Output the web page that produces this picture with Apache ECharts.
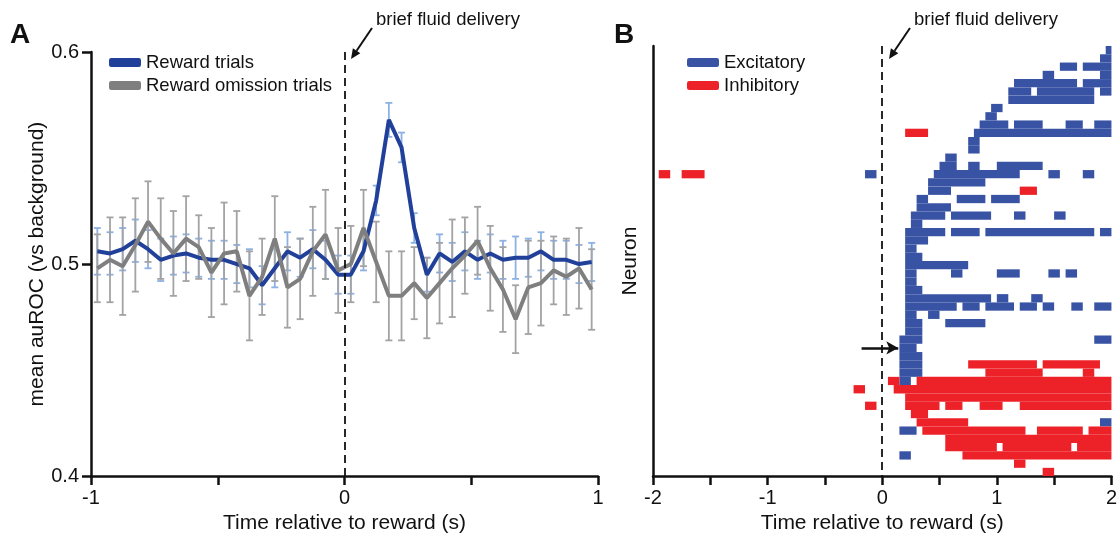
<!DOCTYPE html>
<html>
<head>
<meta charset="utf-8">
<script src="https://cdn.jsdelivr.net/npm/echarts@6/dist/echarts.min.js"></script>
<style>
  html, body { margin: 0; padding: 0; background: #fff; }
  #main { width: 1120px; height: 539px; }
</style>
</head>
<body>
<div id="main"></div>
<script>
  // ---- panel A: mean auROC, 50 ms bins ----
  var timeA = [-0.975, -0.925, -0.875, -0.825, -0.775, -0.725, -0.675, -0.625, -0.575, -0.525,
               -0.475, -0.425, -0.375, -0.325, -0.275, -0.225, -0.175, -0.125, -0.075, -0.025,
                0.025,  0.075,  0.125,  0.175,  0.225,  0.275,  0.325,  0.375,  0.425,  0.475,
                0.525,  0.575,  0.625,  0.675,  0.725,  0.775,  0.825,  0.875,  0.925,  0.975];

  var rewardMean = [0.506, 0.505, 0.507, 0.511, 0.507, 0.502, 0.504, 0.505, 0.503, 0.502,
                    0.502, 0.500, 0.498, 0.490, 0.498, 0.506, 0.503, 0.507, 0.502, 0.495,
                    0.495, 0.506, 0.530, 0.568, 0.555, 0.517, 0.495, 0.505, 0.501, 0.506,
                    0.502, 0.505, 0.502, 0.503, 0.503, 0.506, 0.502, 0.502, 0.500, 0.501];
  var rewardErr = [0.011, 0.010, 0.010, 0.010, 0.009, 0.010, 0.009, 0.009, 0.009, 0.009,
                   0.009, 0.009, 0.009, 0.009, 0.009, 0.009, 0.009, 0.009, 0.009, 0.009,
                   0.009, 0.009, 0.007, 0.008, 0.007, 0.007, 0.008, 0.009, 0.009, 0.009,
                   0.009, 0.009, 0.009, 0.010, 0.009, 0.009, 0.009, 0.009, 0.009, 0.009];

  var omissionMean = [0.498, 0.502, 0.499, 0.509, 0.520, 0.512, 0.505, 0.512, 0.508, 0.496,
                      0.505, 0.506, 0.485, 0.494, 0.512, 0.489, 0.493, 0.506, 0.514, 0.497,
                      0.500, 0.517, 0.501, 0.485, 0.485, 0.491, 0.484, 0.491, 0.498, 0.504,
                      0.511, 0.498, 0.488, 0.474, 0.489, 0.491, 0.497, 0.494, 0.498, 0.488];
  var omissionErr = [0.016, 0.020, 0.023, 0.022, 0.019, 0.019, 0.020, 0.020, 0.015, 0.021,
                     0.024, 0.019, 0.021, 0.018, 0.020, 0.019, 0.019, 0.021, 0.021, 0.020,
                     0.018, 0.018, 0.019, 0.021, 0.021, 0.017, 0.019, 0.019, 0.023, 0.018,
                     0.016, 0.020, 0.020, 0.016, 0.022, 0.020, 0.016, 0.018, 0.019, 0.019];

  // ---- panel B: significant bins per neuron, [row, start s, end s] ----
  var neuronCount = 52;
  var excitatory = [
    [0, 1.95, 2.0], [1, 1.9, 2.0],
    [2, 1.55, 1.7], [2, 1.75, 2.0],
    [3, 1.4, 1.5], [3, 1.9, 2.0],
    [4, 1.15, 1.7], [4, 1.75, 2.0],
    [5, 1.1, 1.3], [5, 1.35, 1.85], [5, 1.9, 2.0],
    [6, 1.1, 1.85],
    [7, 0.95, 1.05], [8, 0.9, 1.0],
    [9, 0.85, 1.1], [9, 1.15, 1.4], [9, 1.6, 1.75], [9, 1.85, 2.0],
    [10, 0.8, 2.0],
    [11, 0.75, 0.85], [12, 0.75, 0.85], [13, 0.55, 0.65],
    [14, 0.5, 0.65], [14, 0.75, 0.85], [14, 1.0, 1.4],
    [15, -0.15, -0.05], [15, 0.45, 1.2], [15, 1.45, 1.55], [15, 1.75, 1.85],
    [16, 0.4, 0.9], [17, 0.4, 0.6],
    [18, 0.3, 0.4], [18, 0.65, 0.9], [18, 0.95, 1.2],
    [19, 0.3, 0.6],
    [20, 0.25, 0.55], [20, 0.6, 0.95], [20, 1.15, 1.25], [20, 1.5, 1.6],
    [21, 0.25, 0.35],
    [22, 0.2, 0.55], [22, 0.6, 0.85], [22, 0.9, 1.85], [22, 1.9, 2.0],
    [23, 0.2, 0.4], [24, 0.2, 0.3], [25, 0.2, 0.35], [26, 0.2, 0.75],
    [27, 0.2, 0.3], [27, 0.6, 0.7], [27, 1.0, 1.2], [27, 1.45, 1.55], [27, 1.6, 1.7],
    [28, 0.2, 0.3], [29, 0.2, 0.35],
    [30, 0.2, 0.95], [30, 1.0, 1.1], [30, 1.3, 1.4],
    [31, 0.2, 0.65], [31, 0.7, 0.85], [31, 0.9, 1.15], [31, 1.2, 1.35], [31, 1.4, 1.5], [31, 1.65, 1.75], [31, 1.85, 2.0],
    [32, 0.2, 0.3], [32, 0.4, 0.5],
    [33, 0.2, 0.35], [33, 0.55, 0.9],
    [34, 0.2, 0.35],
    [35, 0.15, 0.35], [35, 1.85, 2.0],
    [36, 0.15, 0.3], [37, 0.15, 0.35], [38, 0.15, 0.35], [39, 0.15, 0.35], [40, 0.15, 0.25],
    [45, 1.9, 2.0], [46, 0.15, 0.3], [49, 0.15, 0.25]
  ];
  var inhibitory = [
    [10, 0.2, 0.4],
    [15, -1.95, -1.85], [15, -1.75, -1.55],
    [17, 1.2, 1.35],
    [38, 0.75, 1.35], [38, 1.4, 1.9],
    [39, 0.9, 1.4], [39, 1.75, 1.85],
    [40, 0.05, 0.15], [40, 0.3, 2.0],
    [41, -0.25, -0.15], [41, 0.1, 2.0],
    [42, 0.2, 2.0],
    [43, -0.15, -0.05], [43, 0.2, 0.5], [43, 0.55, 0.7], [43, 0.85, 1.05], [43, 1.2, 2.0],
    [44, 0.25, 0.4],
    [45, 0.3, 0.75],
    [46, 0.35, 1.25], [46, 1.35, 1.75], [46, 1.8, 2.0],
    [47, 0.55, 2.0],
    [48, 0.55, 1.0], [48, 1.05, 1.65], [48, 1.7, 2.0],
    [49, 0.7, 2.0],
    [50, 1.15, 1.25], [51, 1.4, 1.5]
  ];

  var font = '"Liberation Sans", Arial, sans-serif';
  var ink = '#111';

  function errorData(mean, err) {
    return timeA.map(function (t, i) { return [t, mean[i] - err[i], mean[i] + err[i]]; });
  }

  function errorBar(color) {
    return function (params, api) {
      var lo = api.coord([api.value(0), api.value(1)]);
      var hi = api.coord([api.value(0), api.value(2)]);
      var w = 3.5;
      var st = { stroke: color, lineWidth: 1.8 };
      return {
        type: 'group',
        children: [
          { type: 'line', shape: { x1: lo[0], y1: lo[1], x2: hi[0], y2: hi[1] }, style: st },
          { type: 'line', shape: { x1: lo[0] - w, y1: lo[1], x2: lo[0] + w, y2: lo[1] }, style: st },
          { type: 'line', shape: { x1: hi[0] - w, y1: hi[1], x2: hi[0] + w, y2: hi[1] }, style: st }
        ]
      };
    };
  }

  function rasterCell(params, api) {
    var p0 = api.coord([api.value(1), api.value(0)]);
    var p1 = api.coord([api.value(2), api.value(0) + 1]);
    var rect = echarts.graphic.clipRectByRect({
      x: p0[0], y: Math.min(p0[1], p1[1]),
      width: p1[0] - p0[0], height: Math.abs(p1[1] - p0[1])
    }, {
      x: params.coordSys.x, y: params.coordSys.y,
      width: params.coordSys.width, height: params.coordSys.height
    });
    return rect && { type: 'rect', shape: rect, style: { fill: api.visual('color') } };
  }

  function arrow(x1, y1, x2, y2) {
    var a = Math.atan2(y2 - y1, x2 - x1), L = 10, W = 4.5;
    var bx = x2 - L * Math.cos(a), by = y2 - L * Math.sin(a);
    return [
      { type: 'line', shape: { x1: x1, y1: y1, x2: bx, y2: by }, style: { stroke: ink, lineWidth: 2 } },
      { type: 'polygon', shape: { points: [[x2, y2],
          [bx + W * Math.sin(a), by - W * Math.cos(a)],
          [bx - W * Math.sin(a), by + W * Math.cos(a)]] }, style: { fill: ink } }
    ];
  }

  var axisLine = { show: true, onZero: false, lineStyle: { color: ink, width: 2.5 } };
  var axisTick = { show: true, inside: false, length: 9, lineStyle: { color: ink, width: 2.5 } };
  var tickText = { color: ink, fontSize: 20, fontFamily: font };
  var nameText = { color: ink, fontSize: 21, fontFamily: font };
  var legendText = { color: ink, fontSize: 18.5, fontFamily: font };

  var chart = echarts.init(document.getElementById('main'));

  chart.setOption({
    animation: false,
    textStyle: { fontFamily: font },
    grid: [
      { left: 91, right: 522, top: 52, bottom: 58 },
      { left: 653, right: 6, top: 46, bottom: 59 }
    ],
    legend: [{
      data: ['Reward trials', 'Reward omission trials'],
      left: 104, top: 48, orient: 'vertical', itemGap: 4,
      icon: 'roundRect', itemWidth: 32, itemHeight: 9,
      textStyle: legendText
    }, {
      data: ['Excitatory', 'Inhibitory'],
      left: 682, top: 48, orient: 'vertical', itemGap: 4,
      icon: 'roundRect', itemWidth: 32, itemHeight: 9,
      textStyle: legendText
    }],
    xAxis: [{
      gridIndex: 0, type: 'value', min: -1, max: 1, interval: 0.5,
      axisLine: axisLine, axisTick: axisTick, splitLine: { show: false },
      axisLabel: Object.assign({ margin: 12, formatter: function (v) { return v % 1 === 0 ? String(v) : ''; } }, tickText),
      name: 'Time relative to reward (s)', nameLocation: 'middle', nameGap: 36, nameTextStyle: nameText
    }, {
      gridIndex: 1, type: 'value', min: -2, max: 2, interval: 0.5,
      axisLine: axisLine, axisTick: axisTick, splitLine: { show: false },
      axisLabel: Object.assign({ margin: 12, formatter: function (v) { return v % 1 === 0 ? String(v) : ''; } }, tickText),
      name: 'Time relative to reward (s)', nameLocation: 'middle', nameGap: 36, nameTextStyle: nameText
    }],
    yAxis: [{
      gridIndex: 0, type: 'value', min: 0.4, max: 0.6, interval: 0.1,
      axisLine: axisLine, axisTick: axisTick, splitLine: { show: false },
      axisLabel: Object.assign({ margin: 12, formatter: function (v) { return v.toFixed(1); } }, tickText),
      name: 'mean auROC (vs background)', nameLocation: 'middle', nameGap: 42, nameRotate: 90, nameTextStyle: nameText
    }, {
      gridIndex: 1, type: 'value', min: 0, max: neuronCount, inverse: true,
      axisLine: axisLine, axisTick: { show: false }, axisLabel: { show: false }, splitLine: { show: false },
      name: 'Neuron', nameLocation: 'middle', nameGap: 12, nameRotate: 90, nameTextStyle: nameText
    }],
    series: [{
      name: 'reward sem', type: 'custom', xAxisIndex: 0, yAxisIndex: 0,
      renderItem: errorBar('#8db1e3'), encode: { x: 0, y: [1, 2] },
      data: errorData(rewardMean, rewardErr), z: 1, silent: true
    }, {
      name: 'omission sem', type: 'custom', xAxisIndex: 0, yAxisIndex: 0,
      renderItem: errorBar('#a3a3a3'), encode: { x: 0, y: [1, 2] },
      data: errorData(omissionMean, omissionErr), z: 2, silent: true
    }, {
      name: 'Reward trials', type: 'line', xAxisIndex: 0, yAxisIndex: 0,
      data: timeA.map(function (t, i) { return [t, rewardMean[i]]; }),
      showSymbol: false, lineStyle: { color: '#21409a', width: 4 }, itemStyle: { color: '#21409a' }, z: 3,
      markLine: {
        silent: true, symbol: 'none', label: { show: false },
        lineStyle: { color: ink, type: [8, 5], width: 1.8 },
        data: [{ xAxis: 0 }]
      }
    }, {
      name: 'Reward omission trials', type: 'line', xAxisIndex: 0, yAxisIndex: 0,
      data: timeA.map(function (t, i) { return [t, omissionMean[i]]; }),
      showSymbol: false, lineStyle: { color: '#7f7f7f', width: 4 }, itemStyle: { color: '#7f7f7f' }, z: 4
    }, {
      name: 'Excitatory', type: 'custom', xAxisIndex: 1, yAxisIndex: 1,
      renderItem: rasterCell, encode: { x: [1, 2], y: 0 },
      itemStyle: { color: '#3953a4' }, data: excitatory,
      markLine: {
        silent: true, symbol: 'none', label: { show: false },
        lineStyle: { color: ink, type: [8, 5], width: 1.8 },
        data: [
          { xAxis: 0 },
          [{ coord: [-0.18, 36.5], symbol: 'none', lineStyle: { type: 'solid', width: 2.5 } },
           { coord: [0.14, 36.5], symbol: 'arrow', symbolSize: [10, 12] }]
        ]
      }
    }, {
      name: 'Inhibitory', type: 'custom', xAxisIndex: 1, yAxisIndex: 1,
      renderItem: rasterCell, encode: { x: [1, 2], y: 0 },
      itemStyle: { color: '#ed2228' }, data: inhibitory
    }],
    graphic: [
      { type: 'text', left: 10, top: 21, style: { text: 'A', fontSize: 28, fontWeight: 'bold', fill: ink, fontFamily: font } },
      { type: 'text', left: 614, top: 21, style: { text: 'B', fontSize: 28, fontWeight: 'bold', fill: ink, fontFamily: font } },
      { type: 'text', left: 376, top: 10, style: { text: 'brief fluid delivery', fontSize: 18.5, fill: ink, fontFamily: font } },
      { type: 'text', left: 914, top: 10, style: { text: 'brief fluid delivery', fontSize: 18.5, fill: ink, fontFamily: font } },
      { type: 'group', children: arrow(372, 28, 351, 59) },
      { type: 'group', children: arrow(910, 28, 889, 59) }
    ]
  });
</script>
</body>
</html>
